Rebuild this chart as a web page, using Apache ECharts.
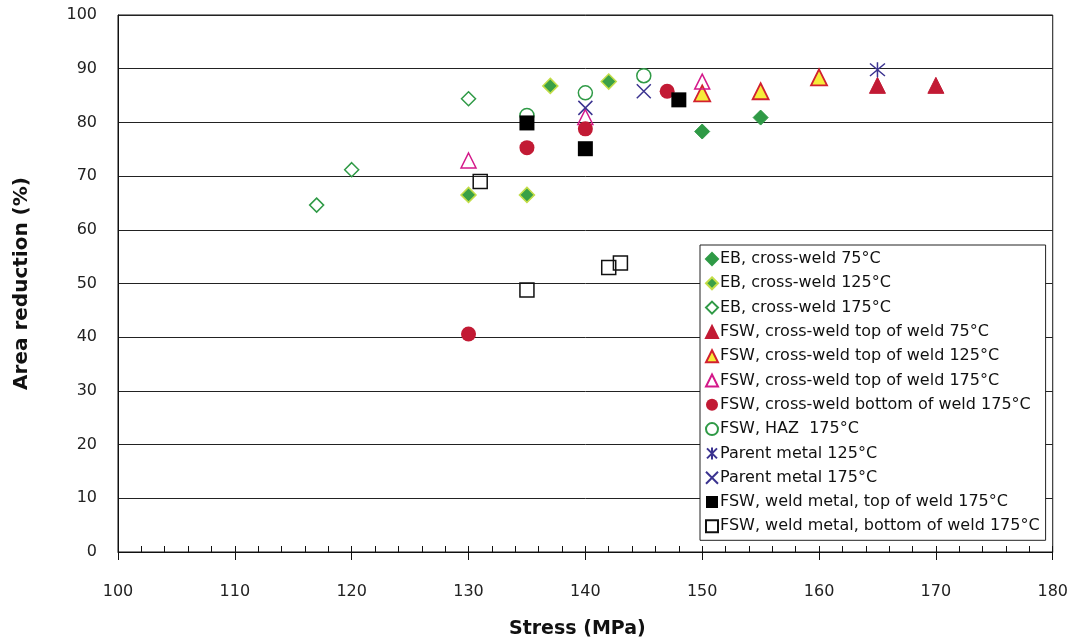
<!DOCTYPE html>
<html>
<head>
<meta charset="utf-8">
<script src="https://cdn.jsdelivr.net/npm/echarts@6/dist/echarts.min.js"></script>
<style>
html,body{margin:0;padding:0;background:#fff;}
#chart{width:1071px;height:644px;}
</style>
</head>
<body>
<div id="chart"></div>
<script>
// ---- data (stress MPa, area reduction %) ----
const xTicks = [100,110,120,130,140,150,160,170,180];
const yTicks = [0,10,20,30,40,50,60,70,80,90,100];
const seriesNames = [
  'EB, cross-weld 75°C',
  'EB, cross-weld 125°C',
  'EB, cross-weld 175°C',
  'FSW, cross-weld top of weld 75°C',
  'FSW, cross-weld top of weld 125°C',
  'FSW, cross-weld top of weld 175°C',
  'FSW, cross-weld bottom of weld 175°C',
  'FSW, HAZ  175°C',
  'Parent metal 125°C',
  'Parent metal 175°C',
  'FSW, weld metal, top of weld 175°C',
  'FSW, weld metal, bottom of weld 175°C'
];
const eb75 = [[150,78.3],[155,80.9]];
const eb125 = [[130,66.5],[135,66.5],[137,86.8],[142,87.6]];
const eb175 = [[117,64.6],[120,71.2],[130,84.4]];
const fswTop75 = [[165,86.9],[170,86.9]];
const fswTop125 = [[150,85.4],[155,85.8],[160,88.4]];
const fswTop175 = [[130,72.9],[140,81.0],[150,87.6]];
const fswBot175 = [[130,40.6],[135,75.3],[140,78.8],[147,85.8]];
const haz175 = [[135,81.3],[140,85.5],[145,88.7]];
const parent125 = [[165,89.8]];
const parent175 = [[140,82.7],[145,85.8]];
const weldTop175 = [[135,79.9],[140,75.1],[148,84.2]];
const weldBot175 = [[131,69.0],[135,48.8],[142,53.0],[143,53.8]];

const xPath = 'path://M0,0L10,10M10,0L0,10';
const starPath = 'path://M0,0L10,10M10,0L0,10M5,-1L5,11';

function sc(name, data, symbol, size, style){
  style.opacity = 1;
  return {name:name, type:'scatter', xAxisIndex:0, yAxisIndex:0, data:data,
    symbol:symbol, symbolSize:size, itemStyle:style, emphasis:{disabled:true}};
}

const series = [
  sc(seriesNames[0], eb75, 'diamond', 15, {color:'#2f9a46', borderColor:'#2f9a46', borderWidth:1}),
  sc(seriesNames[1], eb125, 'diamond', 15, {color:'#3aa047', borderColor:'#c3dd48', borderWidth:1.5}),
  sc(seriesNames[2], eb175, 'diamond', 14, {color:'#ffffff', borderColor:'#2f9a46', borderWidth:1.5}),
  sc(seriesNames[3], fswTop75, 'triangle', 16, {color:'#c21a34', borderColor:'#c21a34', borderWidth:1}),
  sc(seriesNames[4], fswTop125, 'triangle', 16, {color:'#f6ec3a', borderColor:'#d2202f', borderWidth:1.8}),
  sc(seriesNames[5], fswTop175, 'triangle', 15, {color:'rgba(255,255,255,0)', borderColor:'#d4198a', borderWidth:1.5}),
  sc(seriesNames[6], fswBot175, 'circle', 15, {color:'#c21a34', borderColor:'#c21a34', borderWidth:0}),
  sc(seriesNames[7], haz175, 'circle', 14, {color:'rgba(255,255,255,0)', borderColor:'#2f9a46', borderWidth:1.5}),
  sc(seriesNames[8], parent125, starPath, 15, {color:'rgba(0,0,0,0)', borderColor:'#3b3390', borderWidth:1.5}),
  sc(seriesNames[9], parent175, xPath, 14, {color:'rgba(0,0,0,0)', borderColor:'#3b3390', borderWidth:1.5}),
  sc(seriesNames[10], weldTop175, 'rect', 15, {color:'#000000', borderColor:'#000', borderWidth:0}),
  sc(seriesNames[11], weldBot175, 'rect', 14, {color:'rgba(255,255,255,0)', borderColor:'#111', borderWidth:1.5})
];

const font = '"DejaVu Sans", Verdana, sans-serif';
const chart = echarts.init(document.getElementById('chart'), null, {renderer:'canvas'});
chart.setOption({
  backgroundColor:'#fff',
  animation:false,
  textStyle:{fontFamily:font},
  grid:{left:118, right:12, top:15, bottom:90, show:true, borderColor:'#111', borderWidth:1, backgroundColor:'transparent'},
  xAxis:[{
    type:'value', min:xTicks[0], max:xTicks[xTicks.length-1], interval:10,
    name:'Stress (MPa)', nameLocation:'middle', nameGap:68,
    nameTextStyle:{fontFamily:font, fontSize:19, fontWeight:'bold', color:'#111', padding:[0,16,0,0]},
    axisLine:{show:true, onZero:false, lineStyle:{color:'#111', width:1}},
    axisTick:{show:true, inside:false, length:8, lineStyle:{color:'#111'}},
    axisLabel:{fontFamily:font, fontSize:16, color:'#222', margin:32},
    splitLine:{show:false}
  },{
    type:'value', min:xTicks[0], max:xTicks[xTicks.length-1], interval:10, position:'bottom',
    axisLine:{show:false, onZero:false},
    axisTick:{show:true, inside:true, length:6, lineStyle:{color:'#111'}},
    minorTick:{show:true, splitNumber:5, length:6, lineStyle:{color:'#111'}},
    axisLabel:{show:false},
    splitLine:{show:false}
  }],
  yAxis:{
    type:'value', min:yTicks[0], max:yTicks[yTicks.length-1], interval:10,
    name:'Area reduction (%)', nameLocation:'middle', nameGap:86, nameRotate:90,
    nameTextStyle:{fontFamily:font, fontSize:20, fontWeight:'bold', color:'#111'},
    axisLine:{show:true, lineStyle:{color:'#111'}},
    axisTick:{show:false},
    axisLabel:{fontFamily:font, fontSize:16, color:'#222', margin:21},
    splitLine:{show:true, lineStyle:{color:'#222', width:1}}
  },
  legend:{
    show:true, orient:'vertical', left:700, top:245,
    selectedMode:false,
    backgroundColor:'#fff', borderColor:'#222', borderWidth:1,
    padding:[5,6,5,5], itemGap:6.3, itemWidth:12, itemHeight:12,
    textStyle:{fontFamily:font, fontSize:16, color:'#111', lineHeight:18, padding:[0,0,0,-3]},
    data:seriesNames
  },
  series:series
});
</script>
</body>
</html>
